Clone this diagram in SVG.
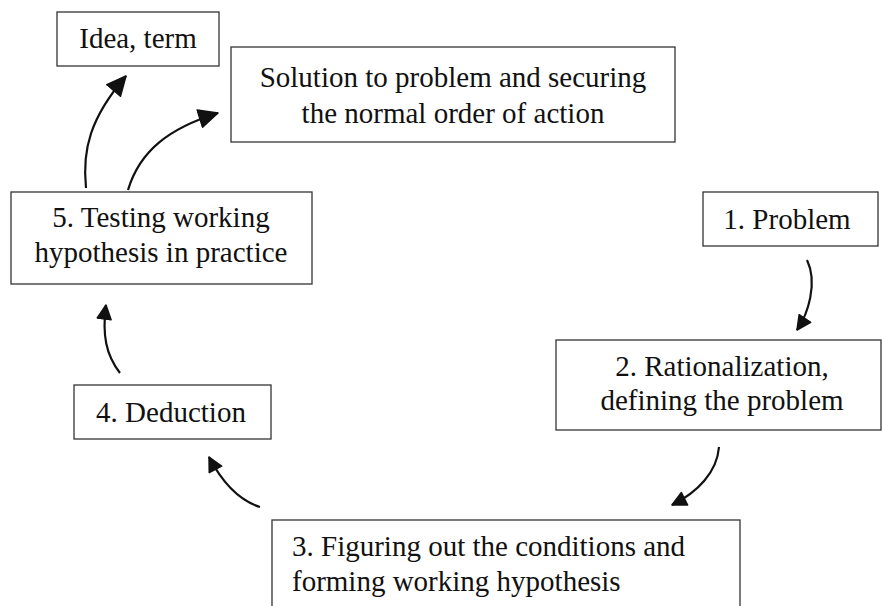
<svg xmlns="http://www.w3.org/2000/svg" width="883" height="606" viewBox="0 0 883 606">
<style>
.box{fill:#fff;stroke:#333;stroke-width:1.3}
.t{font-family:"Liberation Serif","Times New Roman",serif;font-size:29px;fill:#111}
.c{text-anchor:middle}
.arr{fill:none;stroke:#111;stroke-width:2.2}
</style>
<defs>
<marker id="big" markerUnits="userSpaceOnUse" markerWidth="24" markerHeight="24" refX="20" refY="10" orient="auto">
<path d="M1,1 L20,10 L1,19 z" fill="#111" stroke="#111" stroke-width="1.5" stroke-linejoin="round"/>
</marker>
<marker id="sm" markerUnits="userSpaceOnUse" markerWidth="18" markerHeight="18" refX="15" refY="8" orient="auto">
<path d="M1,1 L15,8 L1,15 z" fill="#111" stroke="#111" stroke-width="1.5" stroke-linejoin="round"/>
</marker>
</defs>
<rect width="883" height="606" fill="#fff"/>
<g id="connectors">
<path class="arr" d="M86,188 C82,150 90,118 126,76" marker-end="url(#big)"/>
<path class="arr" d="M128,190 C140,150 170,128 218,113" marker-end="url(#big)"/>
<path class="arr" d="M120,373 C106,355 102,335 106,305" marker-end="url(#sm)"/>
<path class="arr" d="M807,260 C818,283 808,314 797,330" marker-end="url(#sm)"/>
<path class="arr" d="M719,447 C717,472 698,492 672,505" marker-end="url(#sm)"/>
<path class="arr" d="M260,507 C238,500 222,482 209,457" marker-end="url(#sm)"/>
</g>
<g id="idea">
<rect class="box" x="57" y="12" width="162" height="54"/>
<text class="t c" x="138" y="48">Idea, term</text>
</g>
<g id="solution">
<rect class="box" x="231" y="47" width="444" height="95"/>
<text class="t c" x="453" y="87">Solution to problem and securing</text>
<text class="t c" x="453" y="123">the normal order of action</text>
</g>
<g id="n5">
<rect class="box" x="11" y="192" width="301" height="92"/>
<text class="t c" x="161" y="227">5. Testing working</text>
<text class="t c" x="161" y="262">hypothesis in practice</text>
</g>
<g id="n1">
<rect class="box" x="703" y="192" width="175" height="54"/>
<text class="t c" x="787" y="229">1. Problem</text>
</g>
<g id="n2">
<rect class="box" x="556" y="340" width="325" height="90"/>
<text class="t c" x="722" y="376">2. Rationalization,</text>
<text class="t c" x="722" y="410">defining the problem</text>
</g>
<g id="n4">
<rect class="box" x="74" y="385" width="197" height="54"/>
<text class="t c" x="171" y="422">4. Deduction</text>
</g>
<g id="n3">
<rect class="box" x="272" y="520" width="468" height="110"/>
<text class="t" x="292" y="556">3. Figuring out the conditions and</text>
<text class="t" x="292" y="591">forming working hypothesis</text>
</g>
</svg>
